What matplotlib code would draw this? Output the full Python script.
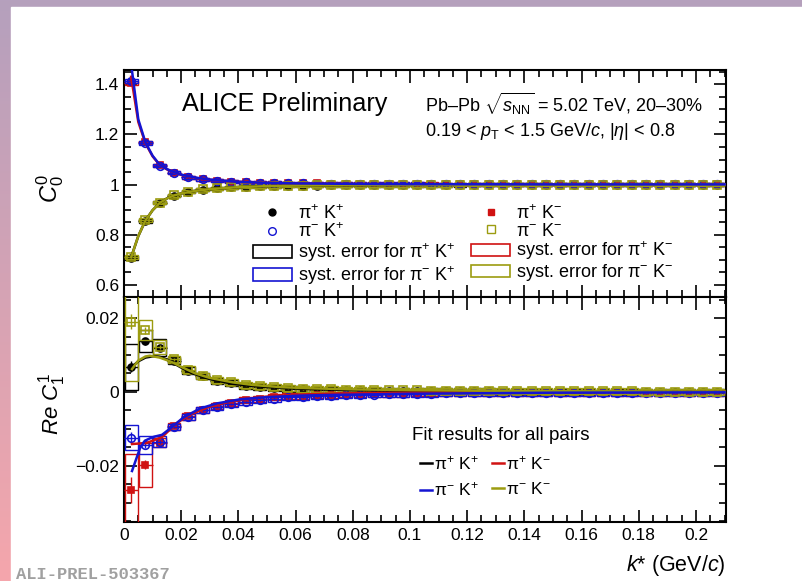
import numpy as np
import matplotlib.pyplot as plt
from matplotlib.patches import Rectangle, Patch
from matplotlib.lines import Line2D
from matplotlib.ticker import MultipleLocator, FuncFormatter

plt.rcParams['font.family'] = ['Liberation Sans', 'DejaVu Sans']
plt.rcParams['mathtext.fontset'] = 'custom'
plt.rcParams['mathtext.rm'] = 'Liberation Sans'
plt.rcParams['mathtext.it'] = 'Liberation Sans:italic'
plt.rcParams['mathtext.bf'] = 'Liberation Sans:bold'
plt.rcParams['mathtext.sf'] = 'Liberation Sans'

BLACK = '#000000'
BLUE = '#1414d2'
RED = '#d01212'
OLIVE = '#9c9c10'

# bin centres in k* (GeV/c)
k = [0.0025, 0.0075, 0.0125, 0.0175, 0.0225, 0.0275, 0.0325, 0.0375, 0.0425, 0.0475,
     0.0525, 0.0575, 0.0625, 0.0675, 0.0725, 0.0775, 0.0825, 0.0875, 0.0925, 0.0975,
     0.1025, 0.1075, 0.1125, 0.1175, 0.1225, 0.1275, 0.1325, 0.1375, 0.1425, 0.1475,
     0.1525, 0.1575, 0.1625, 0.1675, 0.1725, 0.1775, 0.1825, 0.1875, 0.1925, 0.1975,
     0.2025, 0.2075]

# ---- C0^0 ----
c0_ppKp = [0.709, 0.856, 0.927, 0.956, 0.972, 0.980, 0.986, 0.989, 0.991, 0.993,
           0.994, 0.995, 0.996, 0.996, 0.997, 0.997, 0.997, 0.998, 0.998, 0.998,
           0.998, 0.998, 0.998, 0.998, 0.999, 0.999, 0.999, 0.999, 0.999, 0.999,
           0.999, 0.999, 0.999, 0.999, 0.999, 0.999, 0.999, 0.999, 0.999, 0.999,
           0.999, 0.999]
c0_pmKm = [0.711, 0.858, 0.928, 0.957, 0.972, 0.981, 0.986, 0.989, 0.992, 0.993,
           0.994, 0.995, 0.996, 0.997, 0.997, 0.997, 0.998, 0.998, 0.998, 0.998,
           0.998, 0.998, 0.998, 0.999, 0.999, 0.999, 0.999, 0.999, 0.999, 0.999,
           0.999, 0.999, 0.999, 0.999, 0.999, 0.999, 0.999, 0.999, 0.999, 0.999,
           0.999, 0.999]
c0_ppKm = [1.405, 1.168, 1.078, 1.048, 1.030, 1.021, 1.016, 1.012, 1.010, 1.008,
           1.007, 1.006, 1.005, 1.005, 1.004, 1.004, 1.004, 1.003, 1.003, 1.003,
           1.003, 1.003, 1.002, 1.002, 1.002, 1.002, 1.002, 1.002, 1.002, 1.002,
           1.002, 1.002, 1.002, 1.002, 1.002, 1.002, 1.002, 1.002, 1.002, 1.002,
           1.002, 1.002]
c0_pmKp = [1.412, 1.165, 1.076, 1.047, 1.030, 1.021, 1.015, 1.012, 1.009, 1.008,
           1.007, 1.006, 1.005, 1.004, 1.004, 1.004, 1.003, 1.003, 1.003, 1.003,
           1.003, 1.002, 1.002, 1.002, 1.002, 1.002, 1.002, 1.002, 1.002, 1.002,
           1.002, 1.002, 1.002, 1.002, 1.002, 1.002, 1.002, 1.002, 1.002, 1.002,
           1.002, 1.002]
c0_sys = [0.008, 0.007, 0.006, 0.006, 0.006, 0.006, 0.006, 0.006, 0.006, 0.006,
          0.006, 0.006, 0.006, 0.006, 0.006, 0.006, 0.006, 0.006, 0.006, 0.006,
          0.006, 0.006, 0.006, 0.006, 0.006, 0.006, 0.006, 0.006, 0.006, 0.006,
          0.006, 0.006, 0.006, 0.006, 0.006, 0.006, 0.006, 0.006, 0.006, 0.006,
          0.006, 0.006]
c0_stat = [0.004, 0.003, 0.002, 0.002, 0.002, 0.002, 0.002, 0.002, 0.002, 0.002,
           0.002, 0.002, 0.002, 0.002, 0.002, 0.002, 0.002, 0.002, 0.002, 0.002,
           0.002, 0.002, 0.002, 0.002, 0.002, 0.002, 0.002, 0.002, 0.002, 0.002,
           0.002, 0.002, 0.002, 0.002, 0.002, 0.002, 0.002, 0.002, 0.002, 0.002,
           0.002, 0.002]

# fits for C0^0
kfit0 = [0.0025, 0.005, 0.0075, 0.01, 0.0125, 0.015, 0.0175, 0.02, 0.025, 0.03,
         0.04, 0.05, 0.06, 0.08, 0.1, 0.15, 0.21]
fit0_opp = [1.48, 1.26, 1.168, 1.115, 1.079, 1.062, 1.050, 1.040, 1.028, 1.020,
            1.011, 1.007, 1.005, 1.003, 1.002, 1.001, 1.001]
fit0_opp_red = [1.43, 1.25, 1.165, 1.113, 1.078, 1.061, 1.049, 1.039, 1.027, 1.019,
                1.011, 1.007, 1.005, 1.003, 1.002, 1.001, 1.001]
fit0_same = [0.710, 0.795, 0.857, 0.898, 0.927, 0.945, 0.957, 0.965, 0.975, 0.982,
             0.990, 0.994, 0.996, 0.998, 0.999, 1.000, 1.000]

# ---- Re C1^1 ----
c1_ppKp = [0.0068, 0.0137, 0.0120, 0.0085, 0.0058, 0.0042, 0.0030, 0.0023, 0.0017, 0.0013,
           0.0010, 0.0008, 0.0007, 0.0006, 0.0005, 0.0004, 0.0004, 0.0003, 0.0003, 0.0003,
           0.0002, 0.0002, 0.0002, 0.0002, 0.0002, 0.0002, 0.0001, 0.0001, 0.0001, 0.0001,
           0.0001, 0.0001, 0.0001, 0.0001, 0.0001, 0.0001, 0.0001, 0.0001, 0.0001, 0.0001,
           0.0001, 0.0001]
c1_pmKm = [0.0190, 0.0167, 0.0122, 0.0088, 0.0060, 0.0044, 0.0033, 0.0026, 0.0020, 0.0016,
           0.0013, 0.0011, 0.0009, 0.0008, 0.0007, 0.0006, 0.0005, 0.0005, 0.0004, 0.0004,
           0.0004, 0.0003, 0.0003, 0.0003, 0.0003, 0.0002, 0.0002, 0.0002, 0.0002, 0.0002,
           0.0002, 0.0002, 0.0002, 0.0002, 0.0002, 0.0002, 0.0001, 0.0001, 0.0001, 0.0001,
           0.0001, 0.0001]
c1_pmKp = [-0.0124, -0.0143, -0.0135, -0.0095, -0.0068, -0.0050, -0.0040, -0.0032, -0.0027, -0.0022,
           -0.0018, -0.0015, -0.0013, -0.0011, -0.0010, -0.0009, -0.0008, -0.0007, -0.0006, -0.0006,
           -0.0005, -0.0005, -0.0004, -0.0004, -0.0004, -0.0004, -0.0003, -0.0003, -0.0003, -0.0003,
           -0.0003, -0.0003, -0.0002, -0.0002, -0.0002, -0.0002, -0.0002, -0.0002, -0.0002, -0.0002,
           -0.0002, -0.0002]
c1_ppKm = [-0.0265, -0.0197, -0.0137, -0.0093, -0.0066, -0.0048, -0.0038, -0.0029, -0.0023, -0.0018,
           -0.0014, -0.0011, -0.0010, -0.0009, -0.0008, -0.0007, -0.0006, -0.0006, -0.0005, -0.0005,
           -0.0004, -0.0004, -0.0004, -0.0003, -0.0003, -0.0003, -0.0003, -0.0003, -0.0002, -0.0002,
           -0.0002, -0.0002, -0.0002, -0.0002, -0.0002, -0.0002, -0.0002, -0.0002, -0.0002, -0.0002,
           -0.0002, -0.0002]
tail_sys = [0.0009, 0.0009, 0.0008, 0.0008, 0.0008, 0.0008, 0.0008, 0.0008, 0.0008, 0.0008,
            0.0008, 0.0008, 0.0008, 0.0008, 0.0008, 0.0008, 0.0008, 0.0008, 0.0008, 0.0008,
            0.0008, 0.0008, 0.0008, 0.0008, 0.0008, 0.0008, 0.0008, 0.0008, 0.0008, 0.0008,
            0.0008, 0.0008, 0.0008, 0.0008, 0.0008, 0.0008, 0.0008, 0.0008, 0.0008]
sys_ppKp = [0.0063, 0.0030, 0.0022] + tail_sys
sys_pmKm = [0.0160, 0.0027, 0.0018] + tail_sys
sys_pmKp = [0.0034, 0.0024, 0.0015] + tail_sys
sys_ppKm = [0.0098, 0.0060, 0.0013] + tail_sys
stat_ppKp = [0.0015, 0.0010, 0.0006] + [0.0003] * 39
stat_pmKm = [0.0020, 0.0010, 0.0006] + [0.0003] * 39
stat_pmKp = [0.0015, 0.0010, 0.0006] + [0.0003] * 39
stat_ppKm = [0.0035, 0.0012, 0.0006] + [0.0003] * 39

kfit_ppKp = [0.0028, 0.005, 0.0075, 0.0105, 0.0125, 0.015, 0.0175, 0.02, 0.0237, 0.03,
             0.038, 0.045, 0.055, 0.065, 0.08, 0.1, 0.15, 0.21]
fit_ppKp = [0.0068, 0.0083, 0.0093, 0.0097, 0.0095, 0.0088, 0.0077, 0.0066, 0.0051, 0.0035,
            0.0022, 0.0016, 0.0011, 0.0008, 0.0005, 0.0003, 0.0001, 0.0]
kfit_pmKm = [0.0028, 0.005, 0.0075, 0.009, 0.0125, 0.015, 0.0175, 0.02, 0.025, 0.03,
             0.038, 0.045, 0.055, 0.065, 0.08, 0.1, 0.15, 0.21]
fit_pmKm = [0.0062, 0.0085, 0.0096, 0.0098, 0.0093, 0.0086, 0.0078, 0.0068, 0.0050, 0.0038,
            0.0026, 0.0019, 0.0013, 0.0010, 0.0007, 0.0005, 0.0002, 0.0001]
kfit_ppKm = [0.0028, 0.008, 0.0133, 0.0185, 0.023, 0.029, 0.036, 0.044, 0.052, 0.0614,
             0.075, 0.1, 0.15, 0.21]
fit_ppKm = [-0.0141, -0.0138, -0.0122, -0.0084, -0.0062, -0.0042, -0.0028, -0.0018, -0.0011, -0.0007,
            -0.0004, -0.0002, -0.0001, 0.0]
kfit_pmKp = [0.0028, 0.0056, 0.0073, 0.0101, 0.0133, 0.0168, 0.0206, 0.0265, 0.0325, 0.0405,
             0.05, 0.0614, 0.073, 0.1, 0.15, 0.21]
fit_pmKp = [-0.0214, -0.0152, -0.0132, -0.0122, -0.0116, -0.0095, -0.0070, -0.0045, -0.0031, -0.0020,
            -0.0014, -0.0010, -0.0008, -0.0005, -0.0002, -0.0001]

half_bin = 0.0025
box_w = 0.0045


def draw_points(ax, y, stat, sys, color, marker, mfc, ms, z):
    for xi, yi, si in zip(k, y, sys):
        ax.add_patch(Rectangle((xi - box_w / 2, yi - si), box_w, 2 * si, fill=False,
                               ec=color, lw=1.0, zorder=z))
    ax.errorbar(k, y, xerr=half_bin, yerr=stat, fmt=marker, color=color, mfc=mfc,
                mec=color, ms=ms, mew=1.2, elinewidth=1.0, capsize=0, zorder=z + 0.5)


fig = plt.figure(figsize=(8.02, 5.81), dpi=100)

# background frame (purple/pink strips)
bg = fig.add_axes([0, 0, 1, 1], zorder=-10)
grad = np.linspace(0, 1, 200)[:, None]
top_c = np.array([181, 160, 189]) / 255
bot_c = np.array([245, 166, 172]) / 255
img = top_c[None, None, :] * (1 - grad[:, :, None]) + bot_c[None, None, :] * grad[:, :, None]
bg.imshow(img, aspect='auto', extent=[0, 1, 0, 1])
bg.add_patch(Rectangle((11 / 802, 0), 1, 1 - 7 / 581, color='white'))
bg.set_xlim(0, 1)
bg.set_ylim(0, 1)
bg.axis('off')

ax1 = fig.add_axes([124 / 802, 1 - 297 / 581, 602 / 802, 227 / 581])
ax2 = fig.add_axes([124 / 802, 1 - 522 / 581, 602 / 802, 225 / 581])

# top panel
draw_points(ax1, c0_ppKp, c0_stat, c0_sys, BLACK, 'o', BLACK, 5, 3)
draw_points(ax1, c0_ppKm, c0_stat, c0_sys, RED, 's', RED, 5, 4)
draw_points(ax1, c0_pmKp, c0_stat, c0_sys, BLUE, 'o', 'none', 5.5, 5)
draw_points(ax1, c0_pmKm, c0_stat, c0_sys, OLIVE, 's', 'none', 5.5, 6)
ax1.plot(kfit0, fit0_same, color=BLACK, lw=1.8, zorder=8)
ax1.plot(kfit0, fit0_same, color=OLIVE, lw=1.8, zorder=9)
ax1.plot(kfit0, fit0_opp_red, color=RED, lw=1.8, zorder=8)
ax1.plot(kfit0, fit0_opp, color=BLUE, lw=1.8, zorder=9)

# bottom panel
draw_points(ax2, c1_ppKp, stat_ppKp, sys_ppKp, BLACK, 'o', BLACK, 5, 3)
draw_points(ax2, c1_ppKm, stat_ppKm, sys_ppKm, RED, 's', RED, 5, 4)
draw_points(ax2, c1_pmKp, stat_pmKp, sys_pmKp, BLUE, 'o', 'none', 5.5, 5)
draw_points(ax2, c1_pmKm, stat_pmKm, sys_pmKm, OLIVE, 's', 'none', 5.5, 6)
ax2.plot(kfit_ppKp, fit_ppKp, color=BLACK, lw=1.8, zorder=8)
ax2.plot(kfit_pmKm, fit_pmKm, color=OLIVE, lw=1.8, zorder=9)
ax2.plot(kfit_ppKm, fit_ppKm, color=RED, lw=1.8, zorder=8)
ax2.plot(kfit_pmKp, fit_pmKp, color=BLUE, lw=1.8, zorder=9)

ax1.set_xlim(0, 0.2105)
ax2.set_xlim(0, 0.2105)
ax1.set_ylim(0.552, 1.457)
ax2.set_ylim(-0.0352, 0.0257)


def fmt(v, pos):
    s = '%g' % round(v, 4)
    return s.replace('-', '\u2212')


for ax in (ax1, ax2):
    ax.xaxis.set_major_locator(MultipleLocator(0.02))
    ax.xaxis.set_minor_locator(MultipleLocator(0.005))
    ax.tick_params(which='both', direction='in', top=True, right=True, width=1.2,
                   labelsize=12.5)
    ax.tick_params(which='major', length=9)
    ax.tick_params(which='minor', length=5)
    for sp in ax.spines.values():
        sp.set_linewidth(1.5)
    ax.xaxis.set_major_formatter(FuncFormatter(fmt))
    ax.yaxis.set_major_formatter(FuncFormatter(fmt))

ax1.yaxis.set_major_locator(MultipleLocator(0.2))
ax1.yaxis.set_minor_locator(MultipleLocator(0.05))
ax2.yaxis.set_major_locator(MultipleLocator(0.02))
ax2.yaxis.set_minor_locator(MultipleLocator(0.005))
ax1.tick_params(labelbottom=False)
ax2.tick_params(axis='x', pad=4)

fig.text(50 / 802, 1 - 188 / 581, r'$C_0^0$', rotation=90, fontsize=17,
         ha='center', va='center')
fig.text(52 / 802, 1 - 404 / 581, r'$Re\ C_1^1$', rotation=90, fontsize=16,
         ha='center', va='center')
fig.text(726 / 802, 1 - 565 / 581, r'$k$* (GeV/$c$)', fontsize=15.5,
         ha='right', va='center')
fig.text(16 / 802, 1 - 579 / 581, 'ALI-PREL-503367', family='Liberation Mono',
         weight='bold', fontsize=12.3, color='#a0a0a0', ha='left', va='baseline')

fig.text(182 / 802, 1 - 104 / 581, 'ALICE Preliminary', fontsize=18.1,
         ha='left', va='center')
fig.text(425 / 802, 1 - 104 / 581,
         'Pb\u2013Pb $\\sqrt{s_{\\mathrm{NN}}}$ = 5.02 TeV, 20\u201330%',
         fontsize=13, ha='left', va='center')
fig.text(425 / 802, 1 - 131 / 581,
         r'0.19 < $p_{\mathrm{T}}$ < 1.5 GeV/$c$, |$\eta$| < 0.8',
         fontsize=13, ha='left', va='center')

# legend (top panel)
h_ppKp = Line2D([], [], marker='o', color=BLACK, ls='none', ms=5)
h_pmKp = Line2D([], [], marker='o', color=BLUE, mfc='none', ls='none', ms=5.5)
h_ppKm = Line2D([], [], marker='s', color=RED, ls='none', ms=5)
h_pmKm = Line2D([], [], marker='s', color=OLIVE, mfc='none', ls='none', ms=5.5)
b_ppKp = Patch(fc='none', ec=BLACK, lw=1.2)
b_pmKp = Patch(fc='none', ec=BLUE, lw=1.2)
b_ppKm = Patch(fc='none', ec=RED, lw=1.2)
b_pmKm = Patch(fc='none', ec=OLIVE, lw=1.2)
lab_ppKp = r'$\mathrm{\pi^{+}\ K^{+}}$'
lab_pmKp = r'$\mathrm{\pi^{-}\ K^{+}}$'
lab_ppKm = r'$\mathrm{\pi^{+}\ K^{-}}$'
lab_pmKm = r'$\mathrm{\pi^{-}\ K^{-}}$'
leg1 = ax1.legend([h_ppKp, h_pmKp, b_ppKp, b_pmKp, h_ppKm, h_pmKm, b_ppKm, b_pmKm],
                  [lab_ppKp, lab_pmKp, 'syst. error for ' + lab_ppKp,
                   'syst. error for ' + lab_pmKp, lab_ppKm, lab_pmKm,
                   'syst. error for ' + lab_ppKm, 'syst. error for ' + lab_pmKm],
                  ncol=2, frameon=False, fontsize=13, handlelength=2.15,
                  handleheight=0.7, handletextpad=0.33, columnspacing=0.9,
                  labelspacing=0.0, borderpad=0, borderaxespad=0,
                  loc='upper left', bbox_to_anchor=((253 - 124) / 602, (297 - 204) / 227))

# fit legend (bottom panel)
ax2.text((501 - 124) / 602, (522 - 435) / 225, 'Fit results for all pairs',
         transform=ax2.transAxes, fontsize=13.5, ha='center', va='center')
fit_handles = [Line2D([], [], color=c, lw=1.8) for c in (BLACK, BLUE, RED, OLIVE)]
leg2 = ax2.legend(fit_handles, [lab_ppKp, lab_pmKp, lab_ppKm, lab_pmKm], ncol=2,
                  frameon=False, fontsize=12.5, handlelength=0.7, handletextpad=0.08,
                  columnspacing=0.8, labelspacing=0.5, borderpad=0, borderaxespad=0,
                  loc='upper left', bbox_to_anchor=((420 - 124) / 602, (522 - 454) / 225))

fig.savefig('out.png', dpi=100)
